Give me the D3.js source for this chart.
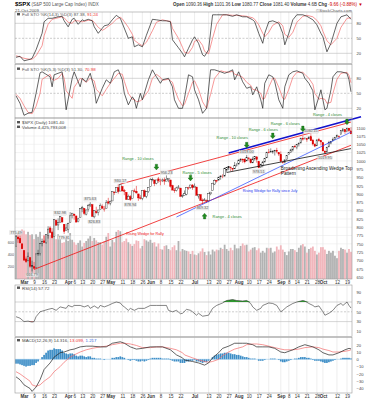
<!DOCTYPE html>
<meta charset="utf-8">
<script src="https://d3js.org/d3.v7.min.js"></script>
<style>
body { margin: 0; background: #fff; }
text { font-family: "Liberation Sans", Arial, sans-serif; }
</style>
<div id="vis"></div>
<script>

// trading days shown, per month (2009)
var febDays = [24,25,26,27];
var marDays = [2,3,4,5,6,9,10,11,12,13,16,17,18,19,20,23,24,25,26,27,30,31];
var aprDays = [1,2,3,6,7,8,9,13,14,15,16,17,20,21,22,23,24,27,28,29,30];
var mayDays = [1,4,5,6,7,8,11,12,13,14,15,18,19,20,21,22,26,27,28,29];
var junDays = [1,2,3,4,5,8,9,10,11,12,15,16,17,18,19,22,23,24,25,26,29,30];
var julDays = [1,2,6,7,8,9,10,13,14,15,16,17,20,21,22,23,24,27,28,29,30,31];
var augDays = [3,4,5,6,7,10,11,12,13,14,17,18,19,20,21,24,25,26,27,28,31];
var sepDays = [1,2,3,4,8,9,10,11,14,15,16,17,18,21,22,23,24,25,28,29,30];
var octDays = [1,2,5,6,7,8,9,12,13,14,15,16,19,20,21];

var open = [743.01,770.64,765.76,749.93,
  729.57,704.44,698.60,708.27,684.04, 680.76,679.28,719.59,720.89,751.97, 758.84,753.88,776.01,797.92,784.58, 772.31,820.60,806.81,814.06,828.68, 809.07,790.88,
  793.59,814.53,835.13, 839.75,834.12,816.76,829.29, 855.33,856.88,839.44,854.54,865.18, 868.27,831.25,847.26,844.62,853.91, 862.82,854.48,856.85,876.59,
  872.74, 879.21,906.10,903.95,919.58,909.03, 922.99,910.52,905.40,884.24,892.76, 886.07,909.67,908.62,900.42,888.68, 887.00,909.95,892.96,907.02,
  923.26,942.87,942.51,932.49,945.67, 938.12,940.35,942.73,939.04,943.44, 942.45,925.60,911.89,910.86,919.96, 918.13,893.46,896.31,899.45,918.84, 919.86,927.15,
  920.82,921.24, 894.27,898.60,881.90,881.28,880.03, 879.57,900.77,910.15,930.17,940.56, 942.07,951.97,953.40,954.07,972.16, 978.63,981.48,977.66,976.01,986.80,
  990.22,1001.41,1005.41,1004.06,999.83, 1008.89,1005.77,994.00,1005.86,1012.23, 998.18,980.62,986.88,996.41,1009.06, 1026.59,1026.63,1027.35,1027.81,1031.62, 1025.21,
  1019.52,996.07,996.12,1003.84, 1018.67,1025.36,1032.99,1043.92, 1040.15,1049.03,1053.99,1067.87,1066.60, 1067.14,1066.35,1072.69,1062.56,1049.48, 1045.38,1063.69,1061.02,
  1054.91,1029.71, 1026.87,1042.02,1053.65,1060.03,1065.28, 1071.63,1074.96,1078.68,1090.36,1094.67, 1088.22,1098.64,1090.36];

var high = [775.49,780.12,779.42,751.27,
  729.57,711.67,724.12,708.27,699.09, 695.27,719.60,731.92,752.63,758.29, 774.53,778.12,803.04,803.24,788.91, 823.37,823.65,826.78,832.98,828.68, 809.07,810.48,
  813.62,845.61,842.50, 839.75,834.12,828.42,856.91, 864.31,856.88,852.93,870.35,875.63, 868.27,850.09,861.78,852.87,871.80, 868.83,864.48,882.06,888.70,
  880.48, 907.85,907.70,920.28,929.58,930.17, 922.99,915.57,905.40,898.36,896.97, 910.00,916.39,924.60,900.42,896.65, 911.76,913.84,909.45,920.02,
  947.77,949.38,942.51,942.47,951.69, 946.33,946.92,949.77,956.23,946.30, 942.45,928.00,918.44,921.93,927.09, 918.13,898.69,910.85,921.42,922.00, 927.99,930.01,
  931.92,921.24, 898.72,898.60,886.80,887.86,883.57, 901.05,905.84,933.95,943.96,941.89, 951.62,956.53,959.83,979.42,979.79, 982.49,982.35,977.76,996.68,993.18,
  1003.61,1007.12,1006.64,1008.00,1018.00, 1010.12,1005.77,1012.78,1013.14,1012.60, 998.18,991.20,999.61,1008.92,1027.59, 1035.82,1037.75,1032.47,1033.33,1039.47, 1025.21,
  1028.45,1000.34,1003.43,1016.48, 1026.07,1036.34,1044.14,1048.18, 1049.74,1056.04,1068.76,1074.77,1071.52, 1067.28,1073.81,1080.15,1066.29,1053.47, 1065.13,1069.62,1063.40,
  1054.91,1030.60, 1042.58,1060.55,1058.02,1070.67,1071.51, 1079.46,1075.30,1093.17,1096.56,1094.67, 1100.17,1098.64,1101.36];

var low = [743.01,752.89,751.75,734.52,
  699.70,692.30,698.60,677.93,666.79, 672.88,679.28,713.85,714.76,742.46, 753.37,749.93,765.64,781.82,766.20, 772.31,805.48,791.37,814.06,813.43, 779.81,790.88,
  783.32,814.53,826.70, 822.79,814.53,814.84,829.29, 845.35,836.31,835.58,847.04,860.87, 832.39,826.83,840.57,835.45,853.91, 854.65,847.12,856.85,868.51,
  866.10, 879.21,897.34,903.95,901.36,909.03, 908.68,896.46,882.04,882.52,878.94, 886.07,905.22,901.37,879.61,883.75, 881.46,891.87,887.60,903.56,
  923.26,938.46,923.85,929.32,934.13, 926.44,936.15,927.97,939.04,935.66, 919.65,911.60,903.78,907.94,915.80, 893.04,888.86,896.31,896.27,913.03, 916.18,912.86,
  920.82,896.42, 886.36,879.93,869.32,878.45,872.81, 875.32,896.50,910.15,927.45,934.65, 940.99,943.22,947.75,953.27,965.95, 972.29,969.35,968.65,976.01,982.85,
  990.22,996.68,994.31,992.49,999.83, 1000.99,992.40,993.36,1000.82,994.60, 978.51,980.62,980.62,996.39,1009.06, 1022.48,1026.21,1021.57,1016.20,1023.13, 1014.62,
  996.28,991.97,992.25,1001.65, 1018.67,1023.97,1028.04,1038.40, 1035.00,1043.42,1052.87,1061.20,1064.27, 1057.46,1066.35,1060.39,1045.85,1041.17, 1045.38,1057.83,1046.47,
  1029.45,1019.95, 1025.92,1042.02,1050.10,1060.03,1063.00, 1071.63,1066.71,1078.68,1086.41,1081.53, 1086.48,1086.16,1080.77];

var close = [773.14,764.90,752.83,735.09,
  700.82,696.33,712.87,682.55,683.38, 676.53,719.60,721.36,750.74,756.55, 753.89,778.12,794.35,784.04,768.54, 822.92,806.12,813.88,832.86,815.94, 787.53,797.87,
  811.08,834.38,842.50, 835.48,815.55,825.16,856.56, 858.73,841.50,852.06,865.30,869.60, 832.39,850.08,843.55,851.92,866.23, 857.51,855.16,873.64,872.81,
  877.52, 907.24,903.80,919.53,907.39,929.23, 909.24,908.35,883.92,893.07,882.88, 909.71,908.13,903.47,888.33,887.00, 910.33,893.06,906.83,919.14,
  942.87,944.74,931.76,942.46,940.09, 939.14,942.43,939.15,944.89,946.21, 923.72,911.97,910.71,918.37,921.23, 893.04,895.10,900.94,920.26,918.90, 927.23,919.32,
  923.33,896.42, 898.72,881.03,879.56,882.68,879.13, 901.05,905.84,932.68,940.74,940.38, 951.13,954.58,954.07,976.29,979.26, 982.18,979.62,975.15,986.75,987.48,
  1002.63,1005.65,1002.72,997.08,1010.48, 1007.10,994.35,1005.81,1012.73,1004.09, 979.73,989.67,996.46,1007.37,1026.13, 1025.57,1028.00,1028.12,1030.98,1028.93, 1020.62,
  998.04,994.75,1003.24,1016.40, 1025.39,1033.37,1044.14,1042.73, 1049.34,1052.63,1068.76,1065.49,1068.30, 1064.66,1071.66,1060.87,1050.78,1044.38, 1062.98,1060.61,1057.08,
  1029.85,1025.21, 1040.46,1054.72,1057.58,1065.48,1071.49, 1076.19,1073.19,1092.02,1096.56,1087.68, 1097.91,1091.06,1081.40];

// volume, billions of shares
var volume = [7.2,6.9,7.0,8.1,
  7.9,7.3,7.7,7.2,7.3, 6.5,7.3,6.9,7.7,6.6, 7.2,6.6,7.6,7.2,8.3, 7.6,6.5,7.3,6.9,5.9, 6.0,6.7,
  6.2,7.5,6.4, 6.0,5.6,5.9,6.3, 5.3,5.9,6.2,6.6,7.0, 6.2,6.7,6.3,6.0,6.0, 5.6,6.2,6.9,7.5,
  5.3, 6.4,6.0,7.7,8.0,7.8, 6.0,6.2,6.6,6.0,5.7, 5.4,5.7,6.3,6.2,5.0, 5.4,6.5,6.3,6.1,
  6.4,5.9,6.0,5.3,5.8, 4.9,4.8,5.4,5.5,4.9, 4.7,5.2,5.5,4.7,6.2, 4.5,4.9,4.7,4.6,4.5, 4.1,4.6,
  4.0,3.9, 4.2,4.5,5.0,4.4,3.9, 4.5,4.0,4.8,4.5,4.8, 4.7,5.1,4.9,5.6,4.9, 4.6,5.1,4.7,5.6,5.0,
  5.0,5.4,5.8,5.5,5.6, 4.5,4.8,5.1,5.2,4.7, 5.0,4.3,4.6,4.3,5.1, 5.0,5.1,4.3,4.5,5.3, 4.8,
  5.5,4.8,4.4,3.9, 4.5,4.9,4.9,4.7, 4.4,5.1,5.5,5.7,5.3, 4.3,4.9,5.1,5.3,4.6, 4.0,4.3,5.2,
  5.2,4.8, 4.1,4.6,4.3,4.6,3.8, 3.4,4.6,5.1,4.9,4.8, 4.3,4.9,4.43];
var volumeTicks = [2, 4, 6];
var volumeTickText = ["200", "400", "600"];

// Full STO (14,3): [day, %K, %D]
var sto1 = [[0,12,15],[2,14,13],[4,5,10],[7,8,8],[8,10,8],[10,27,15],[13,60,35],[14,83,55],[16,90,78],[18,90,88],
  [21,93,91],[23,94,93],[24,85,91],[26,73,82],[28,88,80],[29,90,85],[31,78,85],[33,87,83],[34,85,84],[36,88,86],
  [38,85,86],[39,73,82],[41,60,72],[43,70,66],[44,75,68],[46,77,74],[48,87,80],[50,96,88],[52,90,92],[53,80,89],
  [56,50,72],[58,53,58],[59,33,46],[61,37,40],[63,33,35],[65,56,42],[68,88,65],[70,87,82],[73,85,87],[75,85,85],
  [77,83,84],[78,47,70],[81,31,50],[83,20,32],[84,13,22],[86,30,20],[88,47,32],[89,53,44],[91,40,47],[93,17,36],
  [94,14,24],[96,27,19],[98,97,50],[100,97,78],[103,97,97],[105,97,97],[108,94,96],[110,97,96],[113,93,95],[115,93,94],
  [118,87,91],[119,83,88],[121,60,77],[123,40,60],[124,60,53],[126,83,62],[128,85,76],[131,80,83],[133,60,75],[134,37,58],
  [136,60,52],[138,87,62],[140,97,82],[143,97,94],[145,94,96],[148,87,93],[150,77,86],[152,60,75],[153,53,64],[155,23,45],
  [157,40,37],[160,80,50],[162,93,72],[165,97,90],[167,88,91]];

// Full STO (5,3): [day, %K, %D]
var sto2 = [[0,45,48],[2,30,40],[4,6,25],[6,10,12],[8,12,9],[10,50,24],[12,91,50],[13,93,78],[17,83,88],[18,63,78],
  [19,87,76],[21,90,80],[23,93,90],[24,57,80],[25,17,55],[28,80,40],[29,93,62],[32,63,80],[33,80,78],[35,73,72],
  [37,90,80],[39,60,75],[40,30,58],[43,60,45],[45,77,58],[47,70,70],[49,93,80],[51,97,90],[53,77,88],[54,50,74],
  [56,27,50],[58,43,38],[59,37,38],[60,20,33],[62,50,35],[63,37,38],[66,77,55],[68,97,80],[70,83,88],[72,70,82],
  [73,77,76],[76,80,78],[78,63,72],[79,37,58],[81,20,38],[83,20,25],[84,40,28],[86,87,50],[88,83,72],[89,57,75],
  [91,37,58],[93,10,33],[95,20,20],[97,97,48],[99,97,80],[102,93,95],[104,90,93],[106,93,92],[108,97,94],[109,77,88],
  [111,93,86],[113,73,82],[115,60,72],[117,63,66],[118,47,58],[120,63,56],[122,37,50],[123,20,38],[124,70,40],[126,87,62],
  [128,83,80],[129,73,80],[131,37,62],[133,20,40],[134,63,38],[136,87,58],[138,93,82],[140,95,92],[143,90,92],[144,80,88],
  [146,70,80],[148,55,68],[149,17,50],[151,43,38],[152,57,40],[154,17,38],[155,20,30],[157,57,32],[158,83,50],[160,93,78],
  [162,93,90],[165,90,92],[166,77,86],[167,53,71]];

// RSI(14): [day, value]
var rsi = [[0,40],[2,37],[4,30],[6,31],[8,29],[9,30],[10,40],[12,50],[16,55],[18,57],[20,53],[22,60],[25,57],[26,63],
  [28,60],[29,63],[32,63],[34,60],[36,63],[37,57],[39,62],[41,57],[42,63],[44,60],[46,63],[48,67],[50,70],[52,68],
  [53,63],[54,60],[56,53],[57,57],[59,53],[61,57],[64,57],[67,63],[70,63],[75,63],[76,53],[78,50],[80,53],[82,46],
  [83,47],[85,55],[87,53],[88,50],[90,43],[91,47],[93,41],[96,43],[98,57],[100,63],[103,68],[105,73],[108,75],[110,73],
  [113,72],[115,73],[117,67],[118,60],[120,53],[122,57],[123,63],[126,68],[128,67],[130,63],[132,50],[133,53],[135,60],
  [138,67],[140,70],[143,73],[144,72],[146,67],[148,63],[149,60],[151,62],[153,50],[154,43],[156,47],[158,53],[160,63],
  [162,67],[163,63],[165,70],[166,63],[167,57.72]];

// MACD(12,26,9): [day, macd, signal]
var macd = [[0,-24,-17],[2,-28,-20],[4,-35,-24],[7,-40,-30],[8,-44,-35],[10,-38,-37],[12,-28,-35],[14,-14,-30],[17,-5,-24],
  [19,3,-17],[22,9,-10],[24,10,-4],[27,13,3],[29,14,6],[32,17,10],[35,18,13],[38,18,15],[42,17,17],[45,17,18],[48,22,20],
  [52,24,22],[54,22,22],[57,17,21],[60,14,19],[63,15,16],[67,17,16],[70,17,17],[73,17,17],[77,13,15],[80,6,13],[83,2,9],
  [84,-1,6],[88,-3,2],[91,-5,-1],[94,-8,-3],[96,-5,-4],[98,2,-3],[101,9,0],[103,15,5],[106,18,10],[109,22,14],[113,22,17],
  [115,22,20],[118,20,21],[120,17,21],[123,17,20],[126,17,18],[129,15,16],[132,10,14],[134,9,13],[138,13,13],[141,17,14],
  [144,20,16],[148,17,17],[151,13,16],[153,9,14],[156,6,12],[158,6,10],[161,9,10],[164,13,11],[166,15,12],[167,14.316,13.099]];

var hist = [-6,-6,-7,-8,
  -9,-10,-9,-9,-8, -8,-5,-3,0,3, 6,9,12,13,13, 15,14,14,14,12, 9,8,
  7,8,8, 7,5,4,5, 5,4,3,4,4, 2,2,1,1,1, 0,-1,0,0,
  0, 2,2,3,3,4, 3,2,0,-1,-2, -1,-1,-2,-3,-3, -2,-3,-2,-1,
  1,2,2,2,2, 2,1,1,1,1, -1,-2,-3,-3,-3, -5,-5,-5,-3,-3, -2,-2,
  -1,-3, -3,-4,-5,-4,-4, -2,0,3,5,6, 7,8,8,9,9, 9,8,7,7,6,
  6,5,4,3,3, 2,1,1,1,0, -2,-2,-2,-1,0, 0,1,1,1,0, -1,
  -3,-4,-4,-3, -2,-1,0,1, 1,2,3,3,3, 2,2,1,-1,-2, -2,-2,-3,
  -4,-5, -5,-4,-3,-2,-1, 0,0,1,2,2, 2,2,1.217];

var tickDays = ["03-02","03-09","03-16","03-23","04-01","04-06","04-13","04-20","04-27","05-01","05-11","05-18","05-26",
  "06-01","06-08","06-15","06-22","07-01","07-13","07-20","07-27","08-03","08-10","08-17","08-24","09-01","09-08","09-14",
  "09-21","09-28","10-01","10-12","10-19"];
var tickLabels = ["Mar","9","16","23","Apr","6","13","20","27","May","11","18","26","Jun","8","15","22","Jul","13","20","27",
  "Aug","10","17","24","Sep","8","14","21","28","Oct","12","19"];

var priceTicks = [650,675,700,725,750,775,800,825,850,875,900,925,950,975,1000,1025,1050,1075,1100];

// hand-drawn trend lines: from [day, price] to [day, price], extended by ext days
var trendLines = [
  {a: ["03-09", 672.9], b: ["10-21", 1047], ext: 0, color: "#ee1111", w: 0.8},
  {a: ["05-08", 930.2], b: ["10-21", 1117], ext: 0, color: "#ee1111", w: 0.8},
  {a: ["07-27", 1023.5], b: ["10-21", 1124.6], ext: 5, color: "#1111cc", w: 1.6},
  {a: ["06-18", 830.7], b: ["10-21", 1086.7], ext: 0, color: "#2244ff", w: 0.7},
  {a: ["07-24", 965], b: ["10-21", 1037], ext: 0, color: "#111111", w: 0.8}
];

// price labels at turning points: [day, price, above?]
var pivots = [["02-24",775.49,1],["03-06",666.79,0],["03-26",832.98,1],["03-30",779.81,0],["04-17",875.63,1],
  ["04-21",826.83,0],["05-08",930.17,1],["05-15",878.94,0],["06-11",956.23,1],["07-08",869.32,0],
  ["08-07",1018.00,1],["08-17",978.51,0],["09-23",1080.15,1],["10-02",1019.95,0]];

// "Range" notes: [text day, text price, arrow day, arrow price, text, arrow up?]
var notes = [
  ["05-11", 1002, "06-04", 981, "Range - 10 closes", 0],
  ["06-23", 960, "06-29", 948, "Range - 5 closes", 0],
  ["07-17", 1065, "08-07", 1047, "Range - 10 closes", 0],
  ["08-10", 1090, "08-26", 1075, "Range - 6 closes", 0],
  ["08-25", 1108, "09-17", 1096, "Range - 6 closes", 0],
  ["09-24", 1134, "10-19", 1117, "Range - 4 closes", 0],
  ["07-15", 828, "07-09", 834, "Range - 4 closes", 1]
];

var words = [
  ["09-01", 973, "Broadening Ascending Wedge Top", "#222", 4.7],
  ["09-01", 958, "Pattern", "#222", 4.7],
  ["08-05", 906, "Rising Wedge for Rally since July", "#2233ee", 3.7],
  ["05-13", 776, "Rising Wedge for Rally", "#ee1111", 3.7]
];

// ---------------------------------------------------------------------------
var dates = [];
[[2,febDays],[3,marDays],[4,aprDays],[5,mayDays],[6,junDays],[7,julDays],[8,augDays],[9,sepDays],[10,octDays]]
  .forEach(function(m) {
    m[1].forEach(function(d) { dates.push((m[0] < 10 ? "0" : "") + m[0] + "-" + (d < 10 ? "0" : "") + d); });
  });
function di(s) { return dates.indexOf(s); }

var W = 371, H = 400, L = 15, R = 352;
var svg = d3.select("#vis").append("svg").attr("width", W).attr("height", H);
svg.append("rect").attr("width", W).attr("height", H).attr("fill", "#fff");

var x = d3.scaleLinear().domain([-0.5, dates.length - 0.5]).range([L, R]);

var panels = {
  sto1: {top: 12, bottom: 63.5},
  sto2: {top: 64.5, bottom: 118},
  price: {top: 118, bottom: 279},
  rsi: {top: 285, bottom: 336.5},
  macd: {top: 337.5, bottom: 393}
};

var yS1 = d3.scaleLinear().domain([0, 100]).range([63.3, 13.3]);
var yS2 = d3.scaleLinear().domain([0, 100]).range([118.3, 68.3]);
var yP = d3.scaleLinear().domain([650, 1075]).range([277, 136]);
var yV = d3.scaleLinear().domain([0, 8]).range([279, 230]);
var yR = d3.scaleLinear().domain([0, 100]).range([336.3, 287.3]);
var yM = d3.scaleLinear().domain([0, 20]).range([359.3, 344.7]);

var tickIdx = tickDays.map(di);

// vertical grid
Object.keys(panels).forEach(function(k) {
  var p = panels[k];
  svg.append("g").selectAll("line").data(tickIdx).enter().append("line")
    .attr("x1", function(d) { return x(d); }).attr("x2", function(d) { return x(d); })
    .attr("y1", p.top).attr("y2", p.bottom)
    .attr("stroke", "#e2e2e2").attr("stroke-width", 0.6);
});

function hlines(g, scale, vals, dashed) {
  g.selectAll(null).data(vals).enter().append("line")
    .attr("x1", L).attr("x2", R)
    .attr("y1", function(d) { return scale(d); }).attr("y2", function(d) { return scale(d); })
    .attr("stroke", dashed ? "#aaa" : "#bbb").attr("stroke-width", 0.6)
    .attr("stroke-dasharray", dashed ? "2,1.5" : null);
}

function rightAxis(scale, vals) {
  var ax = svg.append("g").attr("transform", "translate(" + (R + 3.5) + ",0)")
    .call(d3.axisRight(scale).tickValues(vals).tickSize(0).tickPadding(1).tickFormat(d3.format("d")));
  ax.select(".domain").remove();
  ax.selectAll("text").attr("font-size", 4.1).attr("fill", "#444");
}

// ---- stochastics
[[yS1, sto1], [yS2, sto2]].forEach(function(s) {
  var y = s[0];
  svg.append("g").call(function(g) {
    hlines(g, y, [80, 20], false);
    hlines(g, y, [50], true);
  });
  svg.append("path").datum(s[1]).attr("fill", "none").attr("stroke", "#f26b6b").attr("stroke-width", 0.7)
    .attr("d", d3.line().x(function(d) { return x(d[0]); }).y(function(d) { return y(d[2]); }));
  svg.append("path").datum(s[1]).attr("fill", "none").attr("stroke", "#222").attr("stroke-width", 0.7)
    .attr("d", d3.line().x(function(d) { return x(d[0]); }).y(function(d) { return y(d[1]); }));
  rightAxis(y, [80, 50, 20]);
});

// ---- price panel grid
svg.append("g").selectAll("line").data(priceTicks).enter().append("line")
  .attr("x1", L).attr("x2", R)
  .attr("y1", function(d) { return yP(d); }).attr("y2", function(d) { return yP(d); })
  .attr("stroke", "#e6e6e6").attr("stroke-width", 0.5);
rightAxis(yP, priceTicks);

// volume
svg.append("g").selectAll("rect").data(volume).enter().append("rect")
  .attr("x", function(d, i) { return x(i) - 0.9; })
  .attr("width", 1.8)
  .attr("y", function(d) { return yV(d); })
  .attr("height", function(d) { return yV(0) - yV(d); })
  .attr("fill", function(d, i) { return i > 0 && close[i] < close[i - 1] ? "#f1b6bc" : "#b2b2b2"; });
svg.append("g").selectAll("text").data(volumeTicks).enter().append("text")
  .attr("x", L - 1).attr("y", function(d) { return yV(d) + 1.4; })
  .attr("text-anchor", "end").attr("font-size", 3.8).attr("fill", "#555")
  .text(function(d, i) { return volumeTickText[i]; });

// candles
var cg = svg.append("g");
close.forEach(function(c, i) {
  var col = i > 0 && c < close[i - 1] ? "#dd0000" : "#222";
  var hollow = c >= open[i];
  cg.append("line").attr("x1", x(i)).attr("x2", x(i))
    .attr("y1", yP(high[i])).attr("y2", yP(low[i]))
    .attr("stroke", col).attr("stroke-width", 0.5);
  var top = yP(Math.max(open[i], c)), bot = yP(Math.min(open[i], c));
  cg.append("rect").attr("x", x(i) - 0.8).attr("width", 1.6)
    .attr("y", top).attr("height", Math.max(0.5, bot - top))
    .attr("fill", hollow ? "#fff" : col).attr("stroke", col).attr("stroke-width", 0.4);
});

// trend lines
svg.append("g").selectAll("line").data(trendLines).enter().append("line")
  .each(function(d) {
    var ia = di(d.a[0]), ib = di(d.b[0]);
    var slope = (d.b[1] - d.a[1]) / (ib - ia);
    d3.select(this)
      .attr("x1", x(ia)).attr("y1", yP(d.a[1]))
      .attr("x2", x(ib + d.ext)).attr("y2", yP(d.b[1] + slope * d.ext));
  })
  .attr("stroke", function(d) { return d.color; }).attr("stroke-width", function(d) { return d.w; });

// pivot labels
var pg = svg.append("g");
pivots.forEach(function(p) {
  var i = di(p[0]);
  var yy = p[2] ? yP(p[1]) - 3.2 : yP(p[1]) + 3.2;
  var t = pg.append("text").attr("x", x(i)).attr("y", yy + 1.4).attr("text-anchor", "middle")
    .attr("font-size", 3.8).attr("fill", "#555").text(p[1].toFixed(2));
  var bb = t.node().getBBox();
  pg.insert("rect", "text").attr("x", bb.x - 0.5).attr("y", bb.y + 0.3).attr("width", bb.width + 1).attr("height", bb.height - 0.6)
    .attr("fill", "#eee").attr("stroke", "#ccc").attr("stroke-width", 0.3);
});

// green range notes
var ng = svg.append("g");
notes.forEach(function(n) {
  ng.append("text").attr("x", x(di(n[0]))).attr("y", yP(n[1])).attr("font-size", 3.9)
    .attr("fill", "#2d8a2d").text(n[4]);
  var ax = x(di(n[2])), ay = yP(n[3]);
  var s = n[5] ? -1 : 1;
  ng.append("path")
    .attr("d", "M" + (ax - 1.2) + "," + (ay - 3 * s) + "h2.4v" + (2.8 * s) + "h1.3l-2.5," + (3 * s) + "l-2.5," + (-3 * s) + "h1.3z")
    .attr("fill", "#1f8a1f").attr("stroke", "#0d5a0d").attr("stroke-width", 0.3);
});

words.forEach(function(w) {
  svg.append("text").attr("x", x(di(w[0]))).attr("y", yP(w[1])).attr("font-size", w[4])
    .attr("fill", w[3]).text(w[2]);
});

// ---- RSI
svg.append("g").call(function(g) {
  hlines(g, yR, [70, 30], false);
  hlines(g, yR, [50], true);
});
svg.append("path").datum(rsi).attr("fill", "#2e9a2e")
  .attr("d", d3.area().x(function(d) { return x(d[0]); }).y0(yR(70)).y1(function(d) { return yR(Math.max(70, d[1])); }));
svg.append("path").datum(rsi).attr("fill", "#cc2222")
  .attr("d", d3.area().x(function(d) { return x(d[0]); }).y0(yR(30)).y1(function(d) { return yR(Math.min(30, d[1])); }));
svg.append("path").datum(rsi).attr("fill", "none").attr("stroke", "#333").attr("stroke-width", 0.6)
  .attr("d", d3.line().x(function(d) { return x(d[0]); }).y(function(d) { return yR(d[1]); }));
rightAxis(yR, [90, 70, 50, 30, 10]);

// ---- MACD
svg.append("g").selectAll("rect").data(hist).enter().append("rect")
  .attr("x", function(d, i) { return x(i) - 0.85; }).attr("width", 1.7)
  .attr("y", function(d) { return Math.min(yM(d), yM(0)); })
  .attr("height", function(d) { return Math.abs(yM(d) - yM(0)); })
  .attr("fill", "#3c8dc6");
svg.append("line").attr("x1", L).attr("x2", R).attr("y1", yM(0)).attr("y2", yM(0))
  .attr("stroke", "#6aaee0").attr("stroke-width", 0.4);
svg.append("path").datum(macd).attr("fill", "none").attr("stroke", "#f26b6b").attr("stroke-width", 0.7)
  .attr("d", d3.line().x(function(d) { return x(d[0]); }).y(function(d) { return yM(d[2]); }));
svg.append("path").datum(macd).attr("fill", "none").attr("stroke", "#222").attr("stroke-width", 0.7)
  .attr("d", d3.line().x(function(d) { return x(d[0]); }).y(function(d) { return yM(d[1]); }));
rightAxis(yM, [20, 10, 0, -10, -20, -30, -40]);

// panel borders
Object.keys(panels).forEach(function(k) {
  var p = panels[k];
  svg.append("rect").attr("x", L).attr("y", p.top).attr("width", R - L).attr("height", p.bottom - p.top)
    .attr("fill", "none").attr("stroke", "#999").attr("stroke-width", 0.6);
});

// date axes
[panels.price.bottom, panels.macd.bottom].forEach(function(yy) {
  var ax = svg.append("g").attr("transform", "translate(0," + yy + ")")
    .call(d3.axisBottom(x).tickValues(tickIdx).tickSize(1.5).tickPadding(0.3)
      .tickFormat(function(d, i) { return tickLabels[i]; }));
  ax.select(".domain").remove();
  ax.selectAll("line").attr("stroke", "#999").attr("stroke-width", 0.5);
  ax.selectAll("text").attr("font-size", 4.5).attr("fill", "#333")
    .attr("font-weight", function(d, i) { return tickLabels[i].length === 3 ? "bold" : null; });
});

// ---- header and legends
function txt(xx, yy, s, size, fill, weight, anchor) {
  return svg.append("text").attr("x", xx).attr("y", yy).attr("font-size", size).attr("fill", fill || "#333")
    .attr("font-weight", weight || null).attr("text-anchor", anchor || null).text(s);
}
txt(15, 6, "$SPX", 6, "#000", "bold");
txt(31.5, 6, "(S&P 500 Large Cap Index) INDX", 4.5, "#555");
txt(15, 11.5, "21-Oct-2009", 4.3, "#555");

var hdr = svg.append("text").attr("x", 173).attr("y", 6).attr("font-size", 4.5).attr("fill", "#333");
[["Open ", 1], ["1090.36 ", 0], ["High ", 1], ["1101.36 ", 0], ["Low ", 1], ["1080.77 ", 0], ["Close ", 1], ["1081.40 ", 0],
 ["Volume ", 1], ["4.6B ", 0], ["Chg ", 1], ["-9.66 (-0.88%) ", 0]].forEach(function(p) {
  hdr.append("tspan").attr("font-weight", p[1] ? "bold" : null).attr("fill", p[0].indexOf("-9") === 0 ? "#cc0000" : null).text(p[0]);
});
hdr.append("tspan").attr("fill", "#cc0000").text("\u25BC");
txt(352, 11.5, "\u00A9StockCharts.com", 4.3, "#666", null, "end");

function legend(yy, parts) {
  svg.append("rect").attr("x", 17).attr("y", yy - 3).attr("width", 3).attr("height", 2.4).attr("fill", "#555");
  var t = svg.append("text").attr("x", 22).attr("y", yy).attr("font-size", 4.4).attr("fill", "#555");
  parts.forEach(function(p) { t.append("tspan").attr("fill", p[1]).text(p[0]); });
}
legend(16, [["Full STO %K(14,3) %D(3) 87.38, ", "#555"], ["91.24", "#ee3333"]]);
legend(70.5, [["Full STO %K(5,3) %D(3) 51.30, ", "#555"], ["70.98", "#ee3333"]]);
legend(124, [["$SPX (Daily) 1081.40", "#444"]]);
legend(128.6, [["Volume 4,425,793,008", "#444"]]);
legend(289.5, [["RSI(14) 57.72", "#444"]]);
legend(342, [["MACD(12,26,9) 14.316, ", "#444"], ["13.099, ", "#ee3333"], ["1.217", "#3366dd"]]);

</script>
